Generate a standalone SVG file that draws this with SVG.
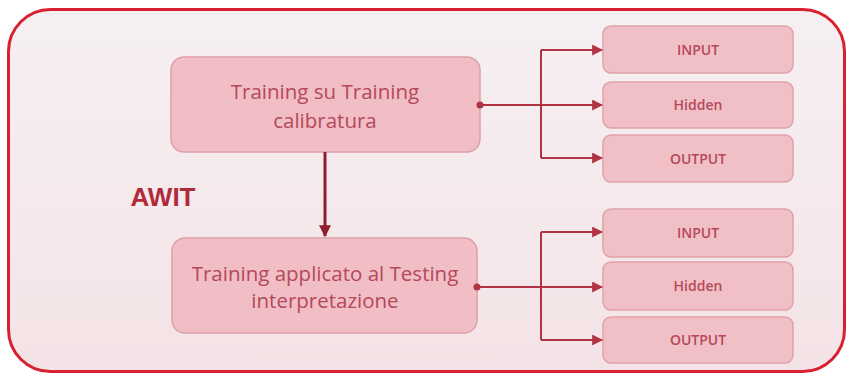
<svg xmlns="http://www.w3.org/2000/svg" width="847" height="374" viewBox="0 0 847 374">
<style>
.big{fill:#f0bec4;stroke:#df9fa8;stroke-width:1.5}
.sm{fill:#f0c0c6;stroke:#dfa2aa;stroke-width:1.5}
.t{font-family:"Open Sans","Liberation Sans",sans-serif;fill:#b5485a;text-anchor:middle}
.bt{font-size:20.5px}
.st{font-size:14px;font-weight:600}
.ln{fill:none;stroke:#b23444;stroke-width:2}
</style>
<defs>
<linearGradient id="bg" x1="0" y1="0" x2="0" y2="1">
<stop offset="0" stop-color="#f6f0f2"/>
<stop offset="1" stop-color="#f4e3e6"/>
</linearGradient>
<marker id="ah" viewBox="0 0 10 10" refX="9" refY="5" markerWidth="5.5" markerHeight="5.5" orient="auto" markerUnits="strokeWidth">
<path d="M0,0 L10,5 L0,10 z" fill="#b23444"/>
</marker>
<marker id="ahd" viewBox="0 0 10 10" refX="9" refY="5" markerWidth="4" markerHeight="4" orient="auto" markerUnits="strokeWidth">
<path d="M0,0 L10,5 L0,10 z" fill="#8e1e2e"/>
</marker>
</defs>
<rect x="8.5" y="9.5" width="836" height="362" rx="42" fill="url(#bg)" stroke="#d8202e" stroke-width="3"/>
<text x="163" y="206" font-family="'Liberation Sans',sans-serif" font-size="26" font-weight="bold" fill="#b02a3c" text-anchor="middle">AWIT</text>
<g id="n1">
<rect class="big" x="171" y="57" width="309" height="95" rx="13"/>
<text class="t bt" x="325" y="99">Training su Training</text>
<text class="t bt" x="325" y="128">calibratura</text>
</g>
<g id="n2">
<rect class="big" x="172" y="238" width="305" height="95" rx="13"/>
<text class="t bt" x="325" y="281">Training applicato al Testing</text>
<text class="t bt" x="325" y="308">interpretazione</text>
</g>
<g id="n3">
<rect class="sm" x="603" y="26" width="190" height="47" rx="8"/>
<text class="t st" x="698" y="55">INPUT</text>
</g>
<g id="n4">
<rect class="sm" x="603" y="82" width="190" height="46" rx="8"/>
<text class="t st" x="698" y="110">Hidden</text>
</g>
<g id="n5">
<rect class="sm" x="603" y="135" width="190" height="47" rx="8"/>
<text class="t st" x="698" y="164">OUTPUT</text>
</g>
<g id="n6">
<rect class="sm" x="603" y="209" width="190" height="48" rx="8"/>
<text class="t st" x="698" y="238">INPUT</text>
</g>
<g id="n7">
<rect class="sm" x="603" y="262" width="190" height="48" rx="8"/>
<text class="t st" x="698" y="291">Hidden</text>
</g>
<g id="n8">
<rect class="sm" x="603" y="317" width="190" height="46" rx="8"/>
<text class="t st" x="698" y="345">OUTPUT</text>
</g>
<g id="connectors">
<path d="M325 152 V236" fill="none" stroke="#8e1e2e" stroke-width="3" marker-end="url(#ahd)"/>
<path class="ln" d="M480 105 H602" marker-end="url(#ah)"/>
<path class="ln" d="M541 50 H602" marker-end="url(#ah)"/>
<path class="ln" d="M541 158 H602" marker-end="url(#ah)"/>
<path class="ln" d="M541 50 V158"/>
<circle cx="480" cy="105" r="3.5" fill="#b23444"/>
<path class="ln" d="M477 287 H602" marker-end="url(#ah)"/>
<path class="ln" d="M541 232 H602" marker-end="url(#ah)"/>
<path class="ln" d="M541 340 H602" marker-end="url(#ah)"/>
<path class="ln" d="M541 232 V340"/>
<circle cx="477" cy="287" r="3.5" fill="#b23444"/>
</g>
</svg>
